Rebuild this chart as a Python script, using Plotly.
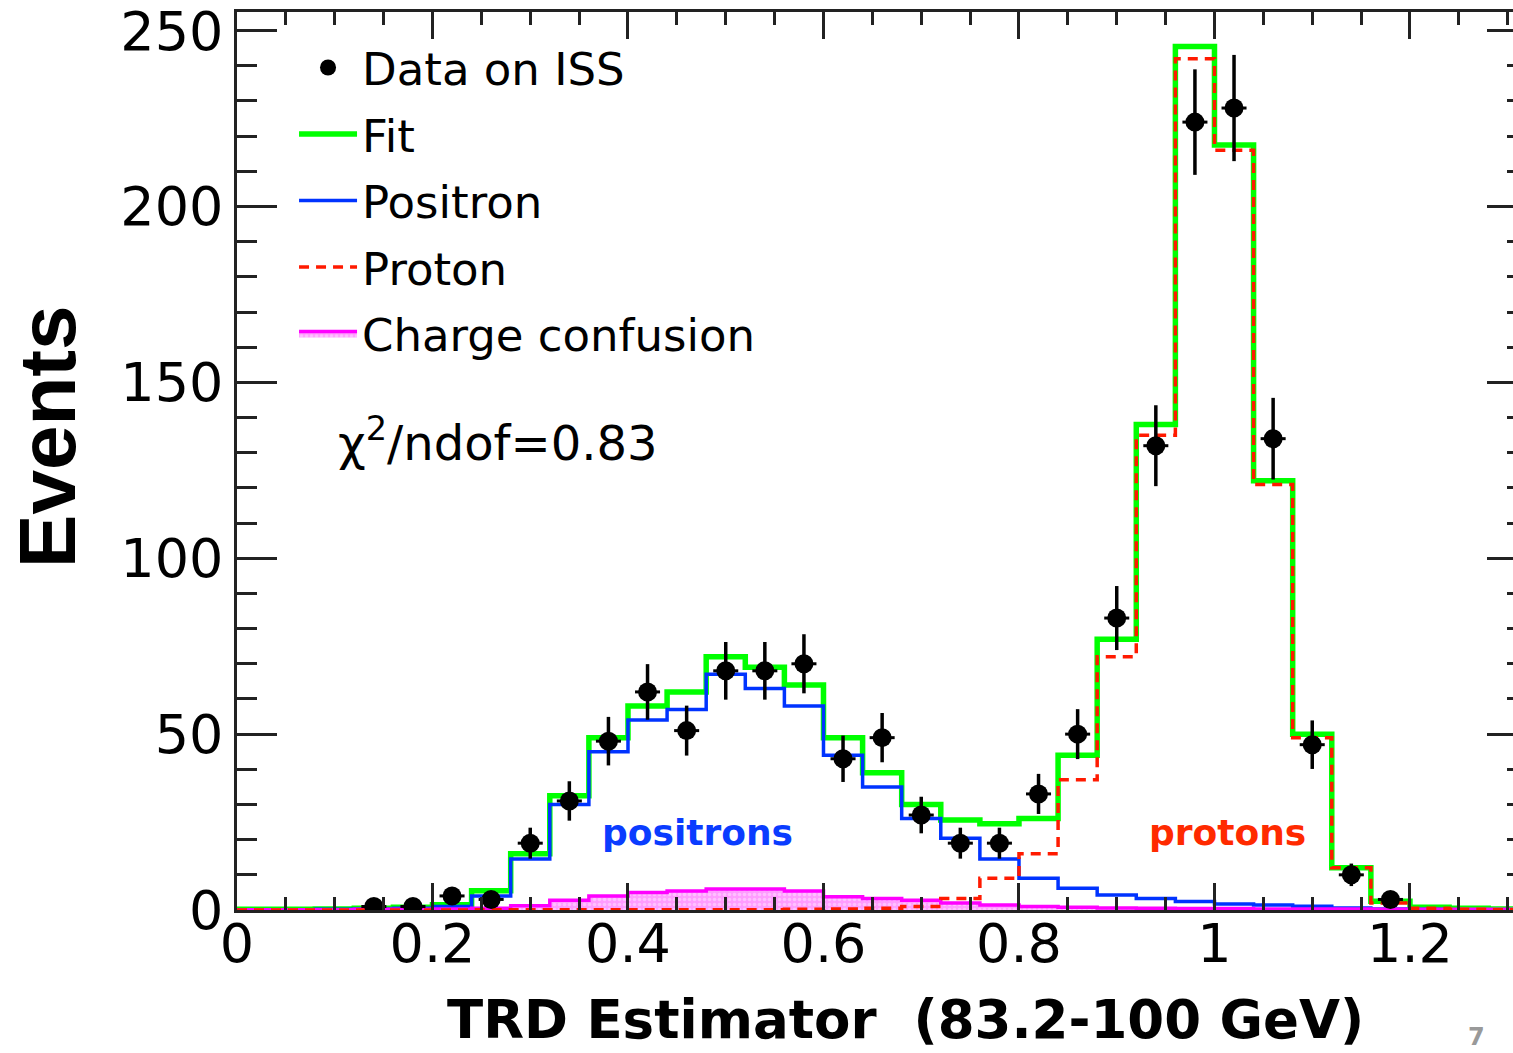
import plotly.graph_objects as go

# ---------------- data ----------------
bin_edges = [0.00, 0.04, 0.08, 0.12, 0.16, 0.20, 0.24, 0.28, 0.32, 0.36, 0.40,
             0.44, 0.48, 0.52, 0.56, 0.60, 0.64, 0.68, 0.72, 0.76, 0.80, 0.84,
             0.88, 0.92, 0.96, 1.00, 1.04, 1.08, 1.12, 1.16, 1.20, 1.24, 1.28, 1.32]

fit_counts = [0.2, 0.2, 0.3, 0.5, 0.8, 1.5, 5.5, 16, 32.5, 49, 58, 62, 72, 69, 64, 49,
              39, 30, 25.6, 24.5, 26, 44, 77, 138, 245.5, 217.5, 122, 50, 12, 2.5, 0.8, 0.5, 0.3]
positron_counts = [0.1, 0.1, 0.2, 0.3, 0.5, 1.0, 4.0, 14.5, 30, 45, 54, 57, 67, 63, 58, 44,
                   35, 26, 20.4, 14.5, 9, 6.2, 4.3, 3.3, 2.4, 1.7, 1.4, 1.1, 0.6, 0.3, 0.2, 0.1, 0.1]
proton_counts = [0, 0, 0, 0, 0, 0, 0.1, 0.1, 0.1, 0.1, 0.1, 0.1, 0.1, 0.1, 0.2, 0.3,
                 0.5, 1.0, 3.3, 9, 16, 37, 72, 135, 242, 216, 121, 49, 12, 2, 0.5, 0.2, 0.1]
charge_conf_counts = [0.1, 0.1, 0.1, 0.2, 0.2, 0.3, 0.5, 1.2, 2.8, 4, 5, 5.4, 6, 6, 5.4, 3.8,
                      3.3, 2.8, 2, 1.4, 1, 0.8, 0.6, 0.5, 0.4, 0.4, 0.3, 0.3, 0.3, 0.2, 0.2, 0.2, 0.2]

data_x = [0.14, 0.18, 0.22, 0.26, 0.30, 0.34, 0.38, 0.42, 0.46, 0.50, 0.54, 0.58, 0.62, 0.66,
          0.70, 0.74, 0.78, 0.82, 0.86, 0.90, 0.94, 0.98, 1.02, 1.06, 1.10, 1.14, 1.18]
data_y = [1, 1, 4, 3, 19, 31, 48, 62, 51, 68, 68, 70, 43, 49,
          27, 19, 19, 33, 50, 83, 132, 224, 228, 134, 47, 10, 3]
data_err = [1, 1, 2, 1.7, 4.4, 5.6, 6.9, 7.9, 7.1, 8.2, 8.2, 8.4, 6.6, 7,
            5.2, 4.4, 4.4, 5.7, 7.1, 9.1, 11.5, 15, 15.1, 11.6, 6.9, 3.2, 1.7]

x_tickvals = [0, 0.2, 0.4, 0.6, 0.8, 1.0, 1.2]
x_ticktext = ["0", "0.2", "0.4", "0.6", "0.8", "1", "1.2"]
y_tickvals = [0, 50, 100, 150, 200, 250]
y_ticktext = ["0", "50", "100", "150", "200", "250"]

X_RANGE = [0, 1.3054]
Y_RANGE = [0, 255.3]

FONT = "DejaVu Sans"
BOLD_FONT = "Liberation Sans, Arial, sans-serif"


def step(counts):
    return list(counts) + [counts[-1]]


fig = go.Figure()

fig.add_trace(go.Scatter(
    x=bin_edges, y=step(fit_counts), mode="lines", line_shape="hv",
    line=dict(color="#00ff00", width=5.5), name="Fit", legendgroup="g2", legendrank=2))
fig.add_trace(go.Scatter(
    x=bin_edges, y=step(positron_counts), mode="lines", line_shape="hv",
    line=dict(color="#0033ff", width=3.5), name="Positron", legendgroup="g3", legendrank=3))
fig.add_trace(go.Scatter(
    x=bin_edges, y=step(charge_conf_counts), mode="lines", line_shape="hv",
    line=dict(color="#ff00ff", width=3.5), fill="tozeroy",
    fillcolor="#ffa0ff",
    fillpattern=dict(shape=".", bgcolor="#ff9cff", fgcolor="#ffe6ff", size=5, solidity=0.4),
    name="Charge confusion", legendgroup="g5", legendrank=5))
fig.add_trace(go.Scatter(
    x=bin_edges, y=step(proton_counts), mode="lines", line_shape="hv",
    line=dict(color="#ff1a00", width=3.5, dash="10px,7px"), name="Proton",
    legendgroup="g4", legendrank=4))
fig.add_trace(go.Scatter(
    x=data_x, y=data_y, mode="markers",
    marker=dict(color="black", size=19, symbol="circle"),
    error_y=dict(type="data", array=data_err, color="black", thickness=3.5, width=0),
    error_x=dict(type="constant", value=0.0128, color="black", thickness=3, width=0),
    name="Data on ISS", legendgroup="g1", legendrank=1))
# carrier for the mirrored right-hand tick marks
fig.add_trace(go.Scatter(x=[0], y=[0], yaxis="y2", mode="markers", marker=dict(opacity=0),
                         showlegend=False, hoverinfo="skip"))

axis_font = dict(family=FONT, size=54, color="black")

fig.update_layout(
    width=1513, height=1053,
    margin=dict(l=237, r=0, t=12, b=143),
    paper_bgcolor="white", plot_bgcolor="white",
    showlegend=True,
    legend=dict(
        x=0.0447, y=0.978, xanchor="left", yanchor="top",
        bgcolor="rgba(0,0,0,0)", borderwidth=0,
        font=dict(family=FONT, size=45, color="black"),
        traceorder="grouped", tracegroupgap=5, itemwidth=58,
    ),
    xaxis=dict(
        range=X_RANGE, tickmode="array", tickvals=x_tickvals, ticktext=x_ticktext,
        ticks="inside", ticklen=27, tickwidth=2.5, tickcolor="#222",
        minor=dict(dtick=0.05, tick0=0, ticks="inside", ticklen=13, tickwidth=2.5, tickcolor="#222"),
        showline=True, linewidth=2.5, linecolor="#222", mirror="ticks",
        showgrid=False, zeroline=False, tickfont=axis_font, ticklabelstandoff=-16,
        ticklabeloverflow="allow",
    ),
    yaxis=dict(
        range=Y_RANGE, tickmode="array", tickvals=y_tickvals, ticktext=y_ticktext,
        ticks="inside", ticklen=40, tickwidth=2.5, tickcolor="#222",
        minor=dict(dtick=10, tick0=0, ticks="inside", ticklen=20, tickwidth=2.5, tickcolor="#222"),
        showline=True, linewidth=2.5, linecolor="#222", mirror=False,
        showgrid=False, zeroline=False, tickfont=axis_font, ticklabelstandoff=0,
        ticklabeloverflow="allow",
    ),
    yaxis2=dict(
        range=Y_RANGE, overlaying="y", side="right", tickmode="array", tickvals=y_tickvals,
        ticks="inside", ticklen=26, tickwidth=2.5, tickcolor="#222", showticklabels=False,
        minor=dict(dtick=10, tick0=0, ticks="inside", ticklen=6, tickwidth=2.5, tickcolor="#222"),
        showline=False, showgrid=False, zeroline=False,
    ),
    annotations=[
        dict(text="Events", xref="paper", yref="paper", x=-0.148, y=0.527,
             textangle=-90, showarrow=False, xanchor="center", yanchor="middle",
             font=dict(family=BOLD_FONT, size=80, color="black", weight="bold")),
        dict(text="TRD Estimator  (83.2-100 GeV)", xref="paper", yref="paper",
             x=(905 - 237) / 1276, y=-0.122, showarrow=False, xanchor="center", yanchor="middle",
             font=dict(family=FONT, size=53, color="black", weight="bold")),
        dict(text="\u03c7<sup>2</sup>/ndof=0.83", xref="x", yref="y", x=0.2675, y=133.5,
             showarrow=False, xanchor="center", yanchor="middle",
             font=dict(family=FONT, size=48, color="black")),
        dict(text="positrons", xref="x", yref="y", x=0.4706, y=21.9,
             showarrow=False, xanchor="center", yanchor="middle",
             font=dict(family=FONT, size=36, color="#0a3cff", weight="bold")),
        dict(text="protons", xref="x", yref="y", x=1.0138, y=21.9,
             showarrow=False, xanchor="center", yanchor="middle",
             font=dict(family=FONT, size=36, color="#ff2a00", weight="bold")),
        dict(text="7", xref="paper", yref="paper", x=(1476 - 237) / 1276, y=-0.1592,
             showarrow=False, xanchor="center", yanchor="bottom",
             font=dict(family=FONT, size=24, color="#999999", weight="bold")),
    ],
)

fig.write_html("out.html")
